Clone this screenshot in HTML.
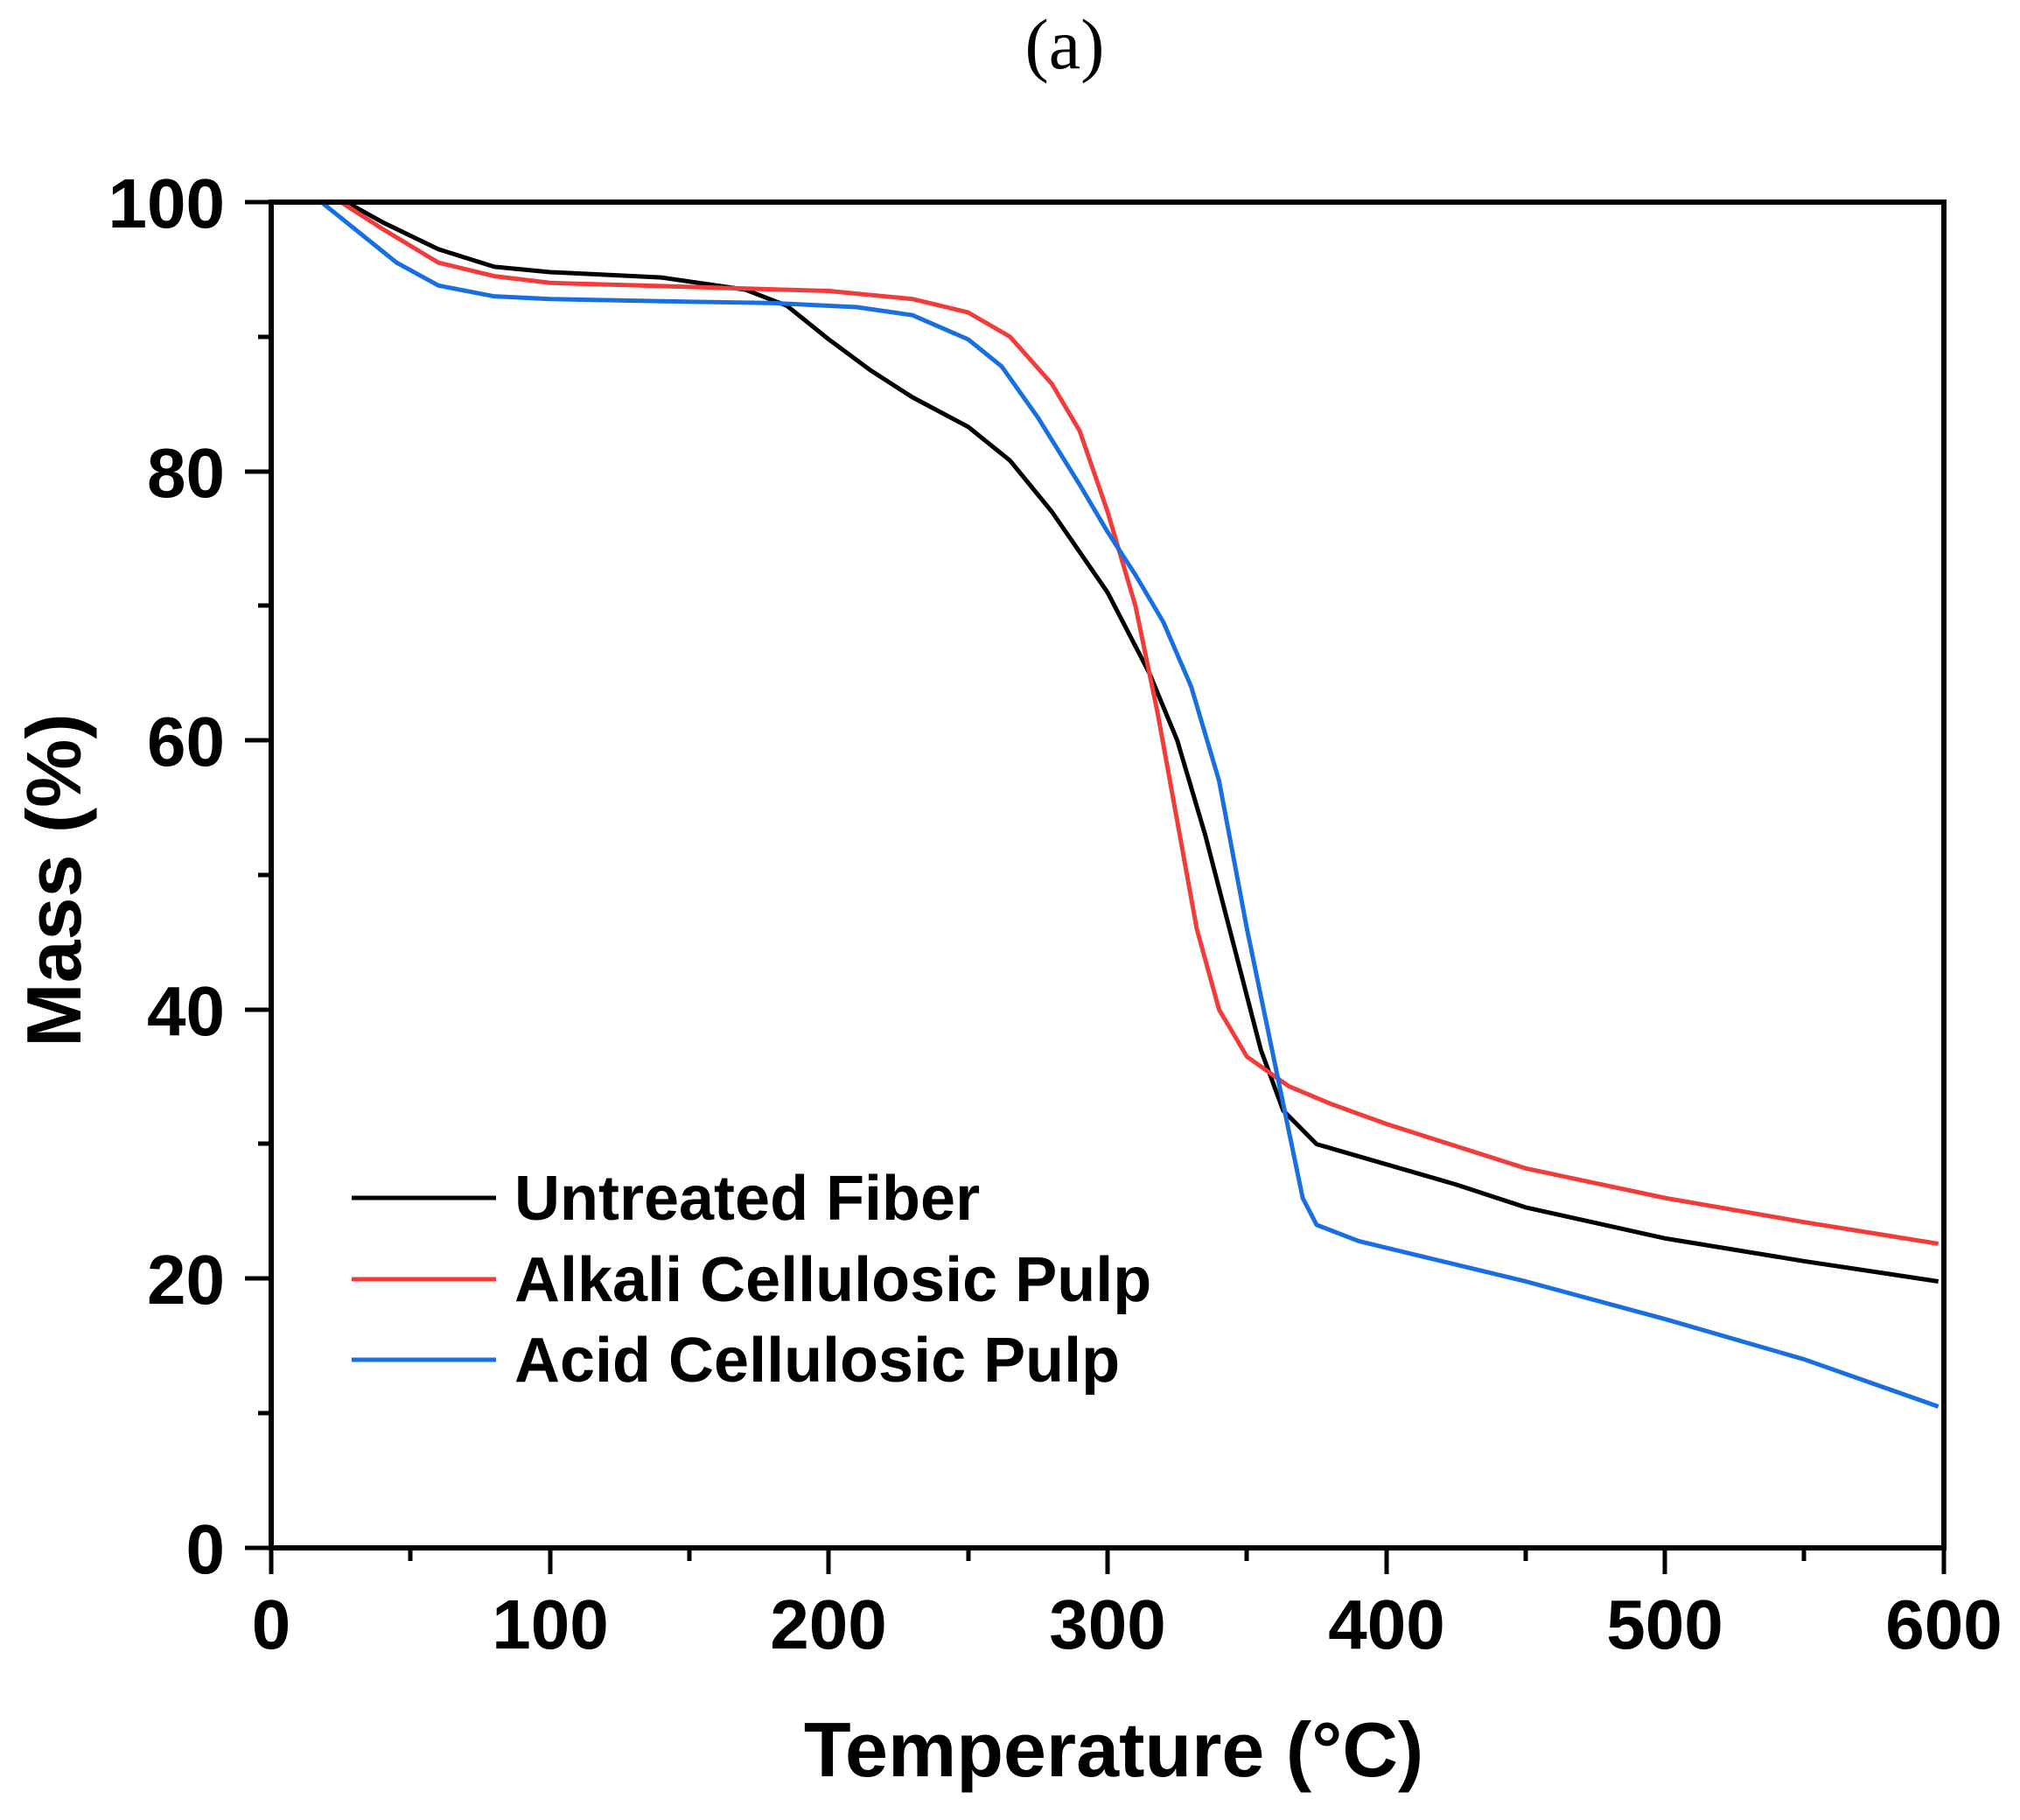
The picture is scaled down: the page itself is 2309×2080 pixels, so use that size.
<!DOCTYPE html>
<html><head><meta charset="utf-8"><style>
html,body{margin:0;padding:0;background:#fff;}
svg text{font-family:"Liberation Sans",sans-serif;font-weight:bold;fill:#000;}
</style></head><body>
<svg width="2309" height="2075" viewBox="0 0 2309 2075" xmlns="http://www.w3.org/2000/svg">
<rect width="2309" height="2075" fill="#fff"/>
<text x="1217" y="78" font-size="82" text-anchor="middle" style="font-family:'Liberation Serif',serif;font-weight:normal">(a)</text>
<g transform="translate(310,1769) scale(3.1867,-15.38)" fill="none" stroke-width="5" stroke-linejoin="round">
<polyline vector-effect="non-scaling-stroke" stroke="#000" points="27,100 40,98.5 60,96.5 80,95.2 100,94.8 140,94.4 170,93.5 185,92.3 200,89.8 215,87.5 230,85.5 250,83.3 265,80.8 280,77 300,71 315,65 325,60 335,53 345,45 355,37 363,32.5 375,30 400,28.5 425,27 450,25.3 500,23 550,21.3 598,19.8"/>
<polyline vector-effect="non-scaling-stroke" stroke="#f23c3c" points="25,100 40,98 60,95.5 80,94.5 100,94 150,93.7 200,93.4 230,92.8 250,91.8 265,90 280,86.5 290,83 300,77 310,70 318,62 325,54 332,46 340,40 350,36.5 365,34.3 380,33 400,31.5 450,28.2 500,26 550,24.2 598,22.6"/>
<polyline vector-effect="non-scaling-stroke" stroke="#1a6fe0" points="18,100 30,98 45,95.5 60,93.8 80,93 100,92.8 150,92.6 180,92.5 210,92.2 230,91.6 250,89.8 262,87.8 275,84 290,79 300,75.5 310,72.3 320,68.8 330,64 340,57 350,46 358,38 365,31 370,26 375,24 390,22.8 400,22.3 450,19.8 500,17 550,14 598,10.5"/>
</g>
<g stroke="#000" stroke-width="6" fill="none">
<rect x="310" y="231" width="1912" height="1538"/>
</g>
<g stroke="#000" stroke-width="5">
<line x1="310" y1="1769" x2="310" y2="1799"/><line x1="629" y1="1769" x2="629" y2="1799"/><line x1="947" y1="1769" x2="947" y2="1799"/><line x1="1266" y1="1769" x2="1266" y2="1799"/><line x1="1585" y1="1769" x2="1585" y2="1799"/><line x1="1903" y1="1769" x2="1903" y2="1799"/><line x1="2222" y1="1769" x2="2222" y2="1799"/>
<line x1="469" y1="1769" x2="469" y2="1784"/><line x1="788" y1="1769" x2="788" y2="1784"/><line x1="1107" y1="1769" x2="1107" y2="1784"/><line x1="1425" y1="1769" x2="1425" y2="1784"/><line x1="1744" y1="1769" x2="1744" y2="1784"/><line x1="2062" y1="1769" x2="2062" y2="1784"/>
<line x1="280" y1="231" x2="310" y2="231"/><line x1="280" y1="539" x2="310" y2="539"/><line x1="280" y1="846" x2="310" y2="846"/><line x1="280" y1="1154" x2="310" y2="1154"/><line x1="280" y1="1461" x2="310" y2="1461"/><line x1="280" y1="1769" x2="310" y2="1769"/>
<line x1="295" y1="385" x2="310" y2="385"/><line x1="295" y1="692" x2="310" y2="692"/><line x1="295" y1="1000" x2="310" y2="1000"/><line x1="295" y1="1307" x2="310" y2="1307"/><line x1="295" y1="1615" x2="310" y2="1615"/>
</g>
<g font-size="80" text-anchor="middle">
<text x="310" y="1884">0</text><text x="629" y="1884">100</text><text x="947" y="1884">200</text><text x="1266" y="1884">300</text><text x="1585" y="1884">400</text><text x="1903" y="1884">500</text><text x="2222" y="1884">600</text>
</g>
<g font-size="80" text-anchor="end">
<text x="257" y="260">100</text><text x="257" y="568">80</text><text x="257" y="875">60</text><text x="257" y="1183">40</text><text x="257" y="1490">20</text><text x="257" y="1798">0</text>
</g>
<text x="1273" y="2030" font-size="88" text-anchor="middle">Temperature (°C)</text>
<text transform="translate(92,1006) rotate(-90)" font-size="88" text-anchor="middle">Mass (%)</text>
<g stroke-width="5">
<line x1="402" y1="1369" x2="567" y2="1369" stroke="#000"/>
<line x1="402" y1="1462" x2="567" y2="1462" stroke="#f23c3c"/>
<line x1="402" y1="1554" x2="567" y2="1554" stroke="#1a6fe0"/>
</g>
<g font-size="72">
<text x="588" y="1394">Untreated Fiber</text>
<text x="588" y="1487">Alkali Cellulosic Pulp</text>
<text x="588" y="1579">Acid Cellulosic Pulp</text>
</g>
</svg>
</body></html>
